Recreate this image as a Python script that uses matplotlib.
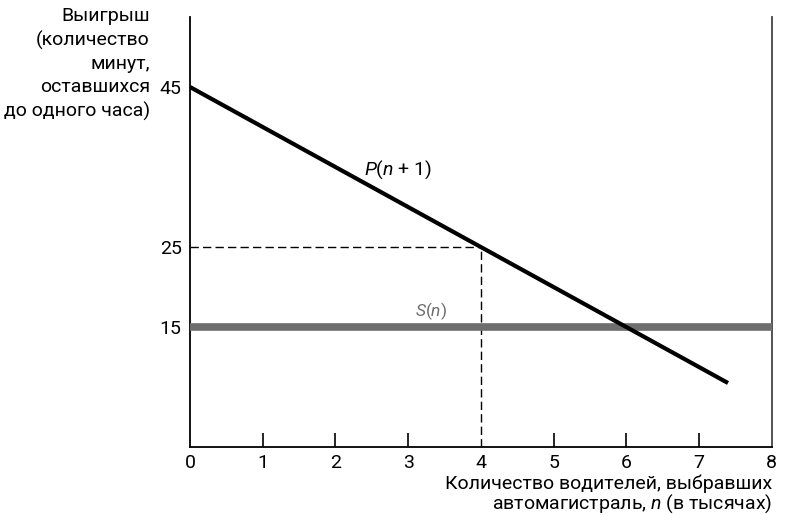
import matplotlib
matplotlib.use("Agg")
import matplotlib.pyplot as plt
import numpy as np

plt.rcParams['font.family'] = ['Roboto', 'DejaVu Sans']
plt.rcParams['mathtext.fontset'] = 'custom'
plt.rcParams['mathtext.rm'] = 'Roboto'
plt.rcParams['mathtext.it'] = 'Roboto:italic'

# data
n_start, n_end = 0.0, 7.4
p_intercept = 45       # P(n+1) at n = 0
p_slope = -5           # minutes per thousand drivers
s_value = 15           # S(n)
n_eq, p_eq = 4, 25     # marked point
x_ticks = [0, 1, 2, 3, 4, 5, 6, 7, 8]
y_ticks = [15, 25, 45]

fig = plt.figure(figsize=(7.85, 5.15), dpi=100)
ax = fig.add_axes([0.242, 0.132, 0.741, 0.835])
ax.set_xlim(0, 8)
ax.set_ylim(0, 53.75)

n = np.array([n_start, n_end])
ax.plot(n, p_intercept + p_slope * n, color='black', lw=3.0, solid_capstyle='butt', zorder=4)
ax.plot([0, 8], [s_value, s_value], color='#6e6e6e', lw=5.5, solid_capstyle='butt', zorder=3)
ax.plot([0, n_eq], [p_eq, p_eq], color='black', lw=1.0, ls=(0, (6, 3)), zorder=2)
ax.plot([n_eq, n_eq], [0, p_eq], color='black', lw=1.0, ls=(0, (6, 3)), zorder=2)

ax.text(2.4, 34.6, r'$P$($n$ + 1)', fontsize=14, ha='left', va='center')
ax.text(3.1, 17.0, r'$S$($n$)', fontsize=12.5, color='#6e6e6e', ha='left', va='center')

ax.spines['top'].set_visible(False)
ax.spines['right'].set_color('#444444')
for s in ['left', 'bottom', 'right']:
    ax.spines[s].set_linewidth(1.3)

ax.set_xticks(x_ticks)
ax.set_xticklabels([str(t) for t in x_ticks], fontsize=14)
ax.tick_params(axis='x', direction='in', length=10, width=1.2, pad=5)
for i, t in enumerate(ax.xaxis.get_major_ticks()):
    if x_ticks[i] in (0, 8, 4):
        t.tick1line.set_visible(False)
ax.set_yticks(y_ticks)
ax.set_yticklabels([str(t) for t in y_ticks], fontsize=14)
ax.tick_params(axis='y', length=0, pad=6)

fig.text(0.191, 0.987, 'Выигрыш\n(количество\nминут,\nоставшихся\nдо одного часа)',
         ha='right', va='top', fontsize=14, linespacing=1.38)
fig.text(0.983, 0.078, 'Количество водителей, выбравших\nавтомагистраль, $n$ (в тысячах)',
         ha='right', va='top', fontsize=14, linespacing=0.95)

fig.savefig('out.png', dpi=100)
